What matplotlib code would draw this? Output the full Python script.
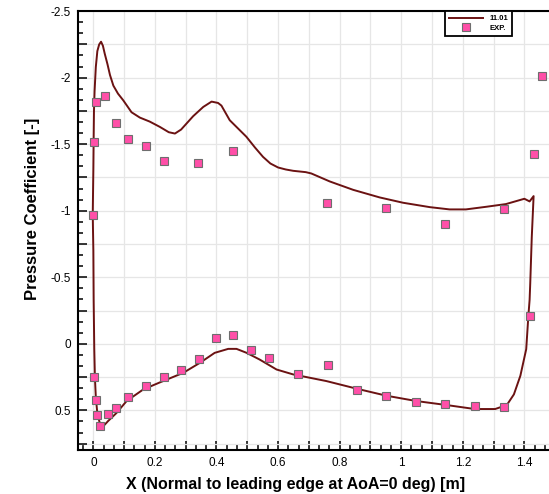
import numpy as np
import matplotlib
matplotlib.use("Agg")
import matplotlib.pyplot as plt
from matplotlib.ticker import MultipleLocator, FuncFormatter

plt.rcParams['font.family'] = ['Liberation Sans', 'DejaVu Sans']
plt.rcParams['axes.unicode_minus'] = False

# CFD result (11.01), closed loop: LE -> upper surface -> TE -> lower surface -> LE
cfd_x = [0.032, 0.027, 0.019, 0.012, 0.008, 0.005, 0.003, 0.001, 0.000, -0.002,
         0.000, 0.001, 0.002, 0.004, 0.008, 0.013, 0.019, 0.025, 0.031, 0.037,
         0.046, 0.054, 0.065, 0.080, 0.097, 0.124, 0.151, 0.183, 0.216, 0.245,
         0.265, 0.285, 0.324, 0.357, 0.384, 0.405, 0.416, 0.443, 0.497, 0.525,
         0.551, 0.575, 0.600, 0.625, 0.649, 0.690, 0.708, 0.768, 0.844, 0.930,
         1.006, 1.093, 1.157, 1.210, 1.277, 1.340, 1.400, 1.417, 1.430, 1.424,
         1.419, 1.417, 1.413, 1.406, 1.387, 1.366, 1.343, 1.305, 1.239, 1.147,
         1.049, 0.952, 0.855, 0.757, 0.649, 0.595, 0.540, 0.498, 0.465, 0.438,
         0.394, 0.346, 0.292, 0.216, 0.162, 0.108, 0.075, 0.048, 0.032]
cfd_cp = [0.62, 0.63, 0.58, 0.50, 0.40, 0.25, 0.04, -0.33, -0.70, -0.97,
          -1.31, -1.55, -1.75, -1.90, -2.08, -2.20, -2.25, -2.27, -2.24, -2.18,
          -2.10, -2.02, -1.94, -1.88, -1.83, -1.74, -1.70, -1.67, -1.63, -1.59,
          -1.58, -1.61, -1.71, -1.78, -1.82, -1.81, -1.79, -1.68, -1.556, -1.475,
          -1.405, -1.355, -1.325, -1.31, -1.30, -1.29, -1.28, -1.22, -1.157, -1.10,
          -1.06, -1.027, -1.01, -1.01, -1.03, -1.05, -1.09, -1.07, -1.11, -0.80,
          -0.45, -0.33, -0.21, 0.04, 0.24, 0.38, 0.46, 0.49, 0.49, 0.46,
          0.43, 0.39, 0.337, 0.28, 0.23, 0.193, 0.118, 0.068, 0.038, 0.038,
          0.068, 0.143, 0.218, 0.29, 0.343, 0.43, 0.52, 0.58, 0.62]

# experiment
exp_x = [0.000, 0.002, 0.010, 0.037, 0.075, 0.113, 0.170, 0.228, 0.341, 0.455,
         0.760, 0.952, 1.143, 1.334, 1.430, 1.456,
         0.003, 0.007, 0.012, 0.023, 0.048, 0.075, 0.112, 0.170, 0.228, 0.285,
         0.343, 0.399, 0.455, 0.512, 0.570, 0.666, 0.762, 0.855, 0.952, 1.048,
         1.143, 1.239, 1.335, 1.417]
exp_cp = [-0.97, -1.52, -1.82, -1.86, -1.66, -1.54, -1.49, -1.37, -1.36, -1.45,
          -1.057, -1.024, -0.90, -1.01, -1.43, -2.01,
          0.25, 0.425, 0.537, 0.62, 0.53, 0.48, 0.40, 0.315, 0.25, 0.193,
          0.113, -0.042, -0.07, 0.043, 0.11, 0.228, 0.16, 0.345, 0.395, 0.438,
          0.45, 0.465, 0.472, -0.21]

fig = plt.figure(figsize=(5.49, 4.94), dpi=100)
ax = fig.add_axes([0.142, 0.0885, 0.858, 0.889])

ax.plot(cfd_x, cfd_cp, color='#6b1212', lw=1.4, label='11.01', zorder=3)
ax.plot(exp_x, exp_cp, ls='none', marker='s', ms=5.5, mfc='#ff4fa8',
        mec='#6e6e6e', mew=0.8, label='EXP.', zorder=4)

ax.set_xlim(-0.05, 1.48)
ax.set_ylim(0.8, -2.5)

ax.xaxis.set_major_locator(MultipleLocator(0.1))
ax.xaxis.set_minor_locator(MultipleLocator(0.1 / 3))
ax.yaxis.set_major_locator(MultipleLocator(0.25))
ax.yaxis.set_minor_locator(MultipleLocator(0.25 / 3))


def xfmt(v, pos):
    k = int(round(v * 10))
    if k % 2:
        return ''
    return '%g' % round(v, 1)


def yfmt(v, pos):
    k = int(round(v * 4))
    if k % 2:
        return ''
    return '%g' % round(v, 2)


ax.xaxis.set_major_formatter(FuncFormatter(xfmt))
ax.yaxis.set_major_formatter(FuncFormatter(yfmt))

ax.tick_params(which='both', direction='in', top=False, right=False,
               width=1.1, labelsize=8.5, color='black')
ax.tick_params(which='major', length=6.5, pad=5)
ax.tick_params(which='minor', length=3.5)

ax.grid(True, which='major', color='#e6e6e6', lw=0.9, zorder=0)
ax.set_axisbelow(True)

for s in ['left', 'bottom', 'top']:
    ax.spines[s].set_linewidth(1.5)
ax.spines['right'].set_visible(False)

ax.set_xlabel('X (Normal to leading edge at AoA=0 deg) [m]', fontsize=11.5,
              fontweight='bold')
ax.xaxis.set_label_coords(0.461, -0.06)
ax.set_ylabel('Pressure Coefficient [-]', fontsize=12, fontweight='bold')
ax.yaxis.set_label_coords(-0.081, 0.549)

leg = ax.legend(loc='upper right', bbox_to_anchor=(0.921, 1.0), borderaxespad=0,
                fancybox=False, framealpha=1, edgecolor='black',
                prop={'size': 5.5, 'weight': 'bold'}, handlelength=4.5,
                markerfirst=True, borderpad=0.5, labelspacing=0.3)
leg.get_frame().set_linewidth(1.3)

fig.savefig('out.png', dpi=100)
